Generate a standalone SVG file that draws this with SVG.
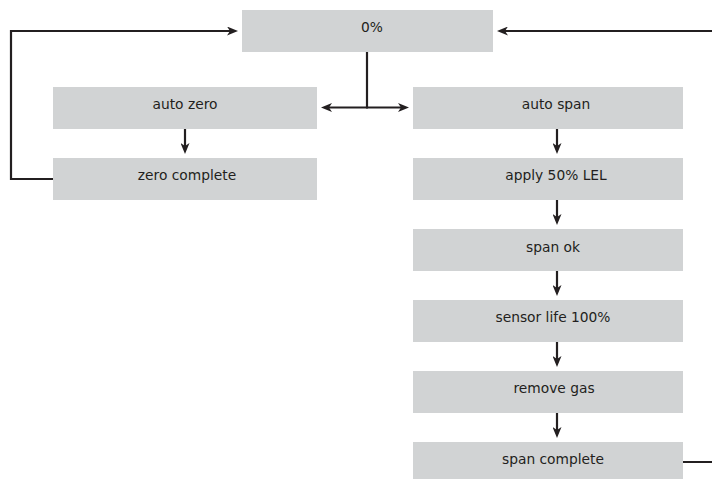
<svg xmlns="http://www.w3.org/2000/svg" width="712" height="479" viewBox="0 0 712 479">
<style>
.box{fill:#d1d3d4}
.lbl{font-family:"DejaVu Sans",sans-serif;font-size:13.8px;fill:#231f20;text-anchor:middle}
.ln{fill:none;stroke:#231f20;stroke-width:2.2}
.ar{marker-end:url(#ah)}
</style>
<defs>
<marker id="ah" viewBox="0 0 11 9" refX="7" refY="4.5" markerWidth="11" markerHeight="9" markerUnits="userSpaceOnUse" orient="auto">
<path d="M0,0 L11,4.5 L0,9 L3,4.5 Z" fill="#231f20"/>
</marker>
</defs>
<rect width="712" height="479" fill="#ffffff"/>
<g id="n-zero-pct"><rect class="box" x="242" y="10" width="251" height="42"/><text class="lbl" x="372" y="32">0%</text></g>
<g id="n-auto-zero"><rect class="box" x="53" y="87" width="264" height="42"/><text class="lbl" x="185" y="109">auto zero</text></g>
<g id="n-zero-complete"><rect class="box" x="53" y="158" width="264" height="42"/><text class="lbl" x="187" y="180">zero complete</text></g>
<g id="n-auto-span"><rect class="box" x="413" y="87" width="270" height="42"/><text class="lbl" x="556" y="109">auto span</text></g>
<g id="n-apply"><rect class="box" x="413" y="158" width="270" height="42"/><text class="lbl" x="556" y="180">apply 50% LEL</text></g>
<g id="n-span-ok"><rect class="box" x="413" y="229" width="270" height="42"/><text class="lbl" x="553" y="251.5">span ok</text></g>
<g id="n-sensor-life"><rect class="box" x="413" y="300" width="270" height="42"/><text class="lbl" x="553" y="322">sensor life 100%</text></g>
<g id="n-remove-gas"><rect class="box" x="413" y="371" width="270" height="42"/><text class="lbl" x="554" y="393">remove gas</text></g>
<g id="n-span-complete"><rect class="box" x="413" y="442" width="270" height="42"/><text class="lbl" x="553" y="464">span complete</text></g>
<g id="connectors">
<path class="ln" d="M367,52 V107.5"/>
<path class="ln ar" d="M368,107.5 H325"/>
<path class="ln ar" d="M366,107.5 H405"/>
<path class="ln ar" d="M185,129 V150"/>
<path class="ln ar" d="M557,129 V150"/>
<path class="ln ar" d="M557,200 V221"/>
<path class="ln ar" d="M557,271 V292"/>
<path class="ln ar" d="M557,342 V363"/>
<path class="ln ar" d="M557,413 V434"/>
<path class="ln ar" d="M53,179 H11 V31 H234"/>
<path class="ln ar" d="M683,462 H714 V31 H501"/>
</g>
</svg>
